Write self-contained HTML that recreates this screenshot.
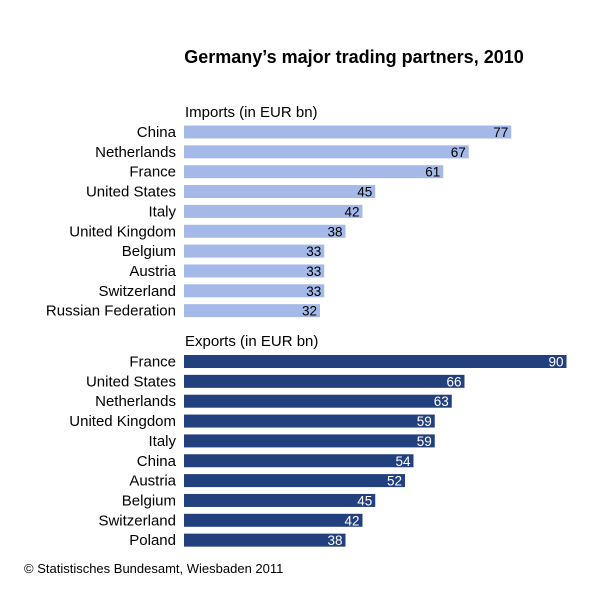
<!DOCTYPE html>
<html><head><meta charset="utf-8"><style>body{margin:0;background:#fff}svg{display:block}text{font-family:"Liberation Sans",sans-serif}</style></head><body>
<svg width="600" height="599" xmlns="http://www.w3.org/2000/svg">
<rect width="600" height="599" fill="#fff"/>
<text x="354" y="63" font-size="18" font-weight="bold" text-anchor="middle" fill="#000">Germany’s major trading partners, 2010</text>
<text x="185" y="117" font-size="15" fill="#000">Imports (in EUR bn)</text>
<text x="185" y="346" font-size="15" fill="#000">Exports (in EUR bn)</text>
<text x="24" y="573" font-size="13" fill="#000">© Statistisches Bundesamt, Wiesbaden 2011</text>
<script>
var ns="http://www.w3.org/2000/svg",s=document.querySelector('svg');
function add(tag,a,t){var e=document.createElementNS(ns,tag);for(var k in a)e.setAttribute(k,a[k]);if(t!==undefined)e.textContent=t;s.appendChild(e);}
function grp(data,c0,col,tc){data.forEach(function(d,i){var c=c0+i*19.85,w=d[1]*4.25;
add('rect',{x:184,y:c-6.5,width:w,height:13,fill:col});
add('text',{x:176,y:c+5,'font-size':15,'text-anchor':'end',fill:'#000'},d[0]);
add('text',{x:184+w-3,y:c+5,'font-size':13.5,'text-anchor':'end',fill:tc},d[1]);});}
grp([["China",77],["Netherlands",67],["France",61],["United States",45],["Italy",42],["United Kingdom",38],["Belgium",33],["Austria",33],["Switzerland",33],["Russian Federation",32]],132,"#a4b9e8","#000");
grp([["France",90],["United States",66],["Netherlands",63],["United Kingdom",59],["Italy",59],["China",54],["Austria",52],["Belgium",45],["Switzerland",42],["Poland",38]],361.5,"#22407e","#fff");
</script>
</svg>
</body></html>
